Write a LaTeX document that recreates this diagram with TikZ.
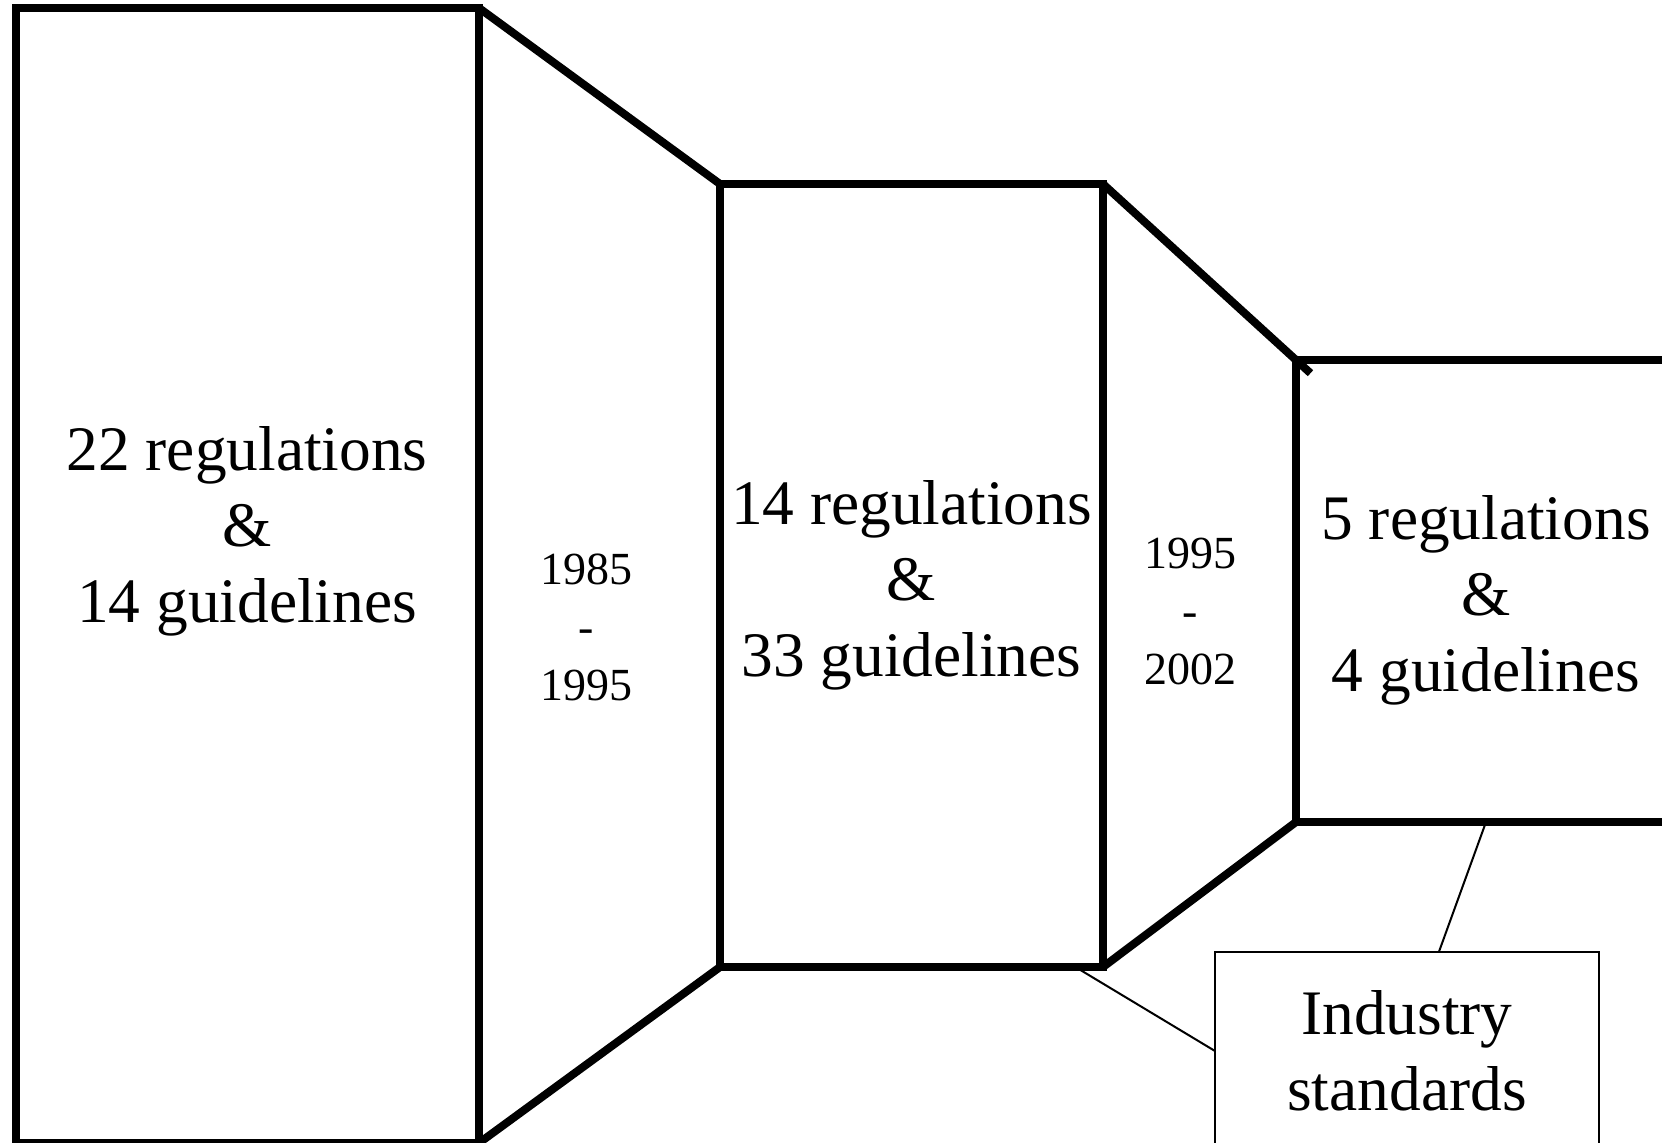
\documentclass[tikz,border=0pt]{standalone}
\usepackage{fontspec}
\setmainfont{Liberation Serif}
\usetikzlibrary{calc}
\begin{document}
\begin{tikzpicture}[x=0.5pt,y=-0.5pt,
  bigbox/.style={draw,line width=4pt,rectangle,outer sep=0pt,inner sep=0pt},
  bigtext/.style={align=center,inner sep=0pt,font=\fontsize{31.7}{38}\selectfont},
  yearlbl/.style={align=center,inner sep=0pt,font=\fontsize{23}{29}\selectfont},
  thick line/.style={line width=4pt},
  thin line/.style={line width=1pt},
  notebox/.style={draw,line width=1pt,rectangle,outer sep=0pt,inner sep=0pt,align=center,
    font=\fontsize{31.7}{38}\selectfont}]
\useasboundingbox (0,0) rectangle (1662,1142);
\clip (0,0) rectangle (1662,1142);
% boxes
\node[bigbox,minimum width=231.75pt,minimum height=567.5pt] (box1) at (247.25,575.5) {};
\node[bigbox,minimum width=191.5pt,minimum height=391.5pt] (box2) at (911.5,575.5) {};
\node[bigbox,minimum width=190pt,minimum height=231pt] (box3) at (1486,591) {};
\node[notebox,minimum width=192pt,minimum height=99pt] (ind) at (1407,1051) {Industry\\standards};
% box texts
\node[bigtext] (t1) at (247,531) {22 regulations\\\&\\14 guidelines};
\node[bigtext] (t2) at (911.5,585) {14 regulations\\\&\\33 guidelines};
\node[bigtext] (t3) at (1486,600) {5 regulations\\\&\\4 guidelines};
% year labels
\node[yearlbl] (y1) at (586,627) {1985\\-\\1995};
\node[yearlbl] (y2) at (1190,611) {1995\\-\\2002};
% funnel connectors
\draw[thick line] (box1.north east) -- (box2.north west);
\draw[thick line] (box1.south east) -- (box2.south west);
\draw[thick line] (box2.north east) -- ($(box2.north east)!1.075!(box3.north west)$);
\draw[thick line] (box2.south east) -- (box3.south west);
% callout lines
\coordinate (c1) at ($(box2.south west)!0.928!(box2.south east)$);
\coordinate (c2) at ($(box3.south west)!0.5!(box3.south east)$);
\draw[thin line] (c1) -- (ind.west);
\draw[thin line] (c2) -- ($(ind.north west)!0.583!(ind.north east)$);
\end{tikzpicture}
\end{document}
